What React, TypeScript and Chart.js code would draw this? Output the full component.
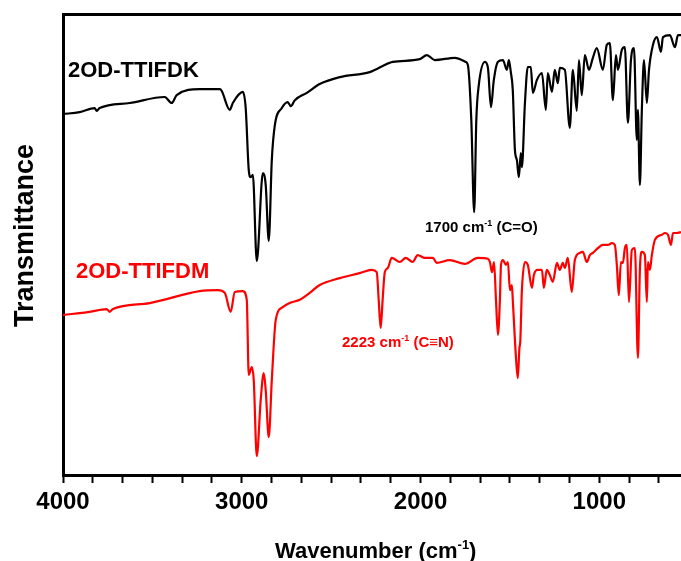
import React, { useEffect, useRef } from "react";
import { Chart, registerables } from "chart.js";

Chart.register(...registerables);

// ---- Data (wavenumber in cm^-1, transmittance in arbitrary %) ----
const BLACK_WN = [4000, 3907, 3823, 3811, 3795, 3627, 3431, 3392, 3364, 3235, 3123, 3112, 3067, 3050, 2994, 2978, 2961, 2950, 2938, 2916, 2882, 2866, 2849, 2832, 2815, 2776, 2743, 2726, 2703, 2636, 2564, 2452, 2284, 2155, 2004, 1965, 1920, 1808, 1747, 1735, 1716, 1700, 1688, 1674, 1640, 1623, 1606, 1590, 1568, 1539, 1517, 1506, 1495, 1484, 1472, 1461, 1450, 1439, 1433, 1416, 1400, 1383, 1372, 1349, 1321, 1299, 1288, 1265, 1249, 1232, 1221, 1193, 1165, 1148, 1126, 1114, 1098, 1081, 1058, 1036, 1014, 980, 958, 941, 924, 907, 896, 874, 857, 840, 823, 806, 790, 784, 773, 762, 750, 734, 722, 700, 678, 655, 644, 605, 577, 560, 543];
const BLACK_T = [78.3, 78.7, 79.6, 79.0, 79.6, 80.7, 82.0, 80.7, 82.4, 83.7, 83.7, 83.3, 79.2, 80.7, 83.1, 79.6, 66.2, 64.6, 65.1, 46.4, 65.5, 62.9, 50.8, 68.3, 75.9, 79.6, 80.9, 80.0, 81.3, 82.9, 84.8, 86.3, 87.4, 89.6, 90.2, 91.1, 90.0, 90.5, 89.6, 88.9, 77.0, 57.0, 77.0, 84.6, 89.6, 88.3, 79.8, 85.7, 89.6, 90.0, 87.9, 90.0, 87.4, 83.5, 70.5, 68.3, 64.6, 69.8, 66.8, 80.7, 88.5, 88.5, 82.9, 85.7, 87.2, 79.2, 87.2, 83.1, 87.9, 85.0, 88.3, 87.9, 75.3, 87.9, 79.0, 90.0, 82.4, 91.1, 87.9, 90.5, 92.6, 87.9, 93.3, 93.7, 81.3, 91.1, 87.9, 92.2, 92.8, 76.4, 90.0, 92.6, 72.7, 79.2, 62.9, 79.2, 90.0, 80.7, 87.9, 93.3, 95.0, 91.8, 95.0, 95.4, 92.8, 95.4, 95.4];

const RED_WN = [4000, 3851, 3756, 3739, 3721, 3515, 3235, 3134, 3095, 3062, 3039, 2994, 2972, 2961, 2944, 2933, 2916, 2894, 2877, 2866, 2849, 2832, 2810, 2771, 2732, 2676, 2620, 2564, 2452, 2340, 2273, 2245, 2234, 2223, 2212, 2200, 2183, 2161, 2116, 2083, 2044, 2016, 1976, 1931, 1909, 1837, 1752, 1679, 1623, 1612, 1600, 1589, 1578, 1567, 1556, 1550, 1539, 1522, 1511, 1500, 1489, 1484, 1467, 1456, 1447, 1442, 1433, 1416, 1400, 1377, 1366, 1344, 1321, 1310, 1294, 1277, 1260, 1237, 1221, 1204, 1193, 1176, 1154, 1137, 1109, 1092, 1070, 1053, 1036, 1008, 980, 952, 930, 913, 902, 891, 879, 868, 857, 846, 834, 818, 801, 784, 773, 762, 745, 734, 728, 717, 706, 689, 650, 633, 616, 599, 588, 566, 543];
const RED_T = [34.7, 35.4, 36.0, 35.4, 36.0, 37.3, 39.9, 40.1, 39.5, 35.4, 39.7, 39.9, 38.0, 21.7, 23.4, 20.6, 4.1, 16.3, 22.1, 18.4, 8.2, 20.6, 33.6, 36.4, 37.3, 38.0, 39.5, 41.2, 42.7, 43.8, 44.5, 44.0, 38.0, 31.9, 38.0, 44.0, 44.9, 47.1, 46.2, 47.1, 46.2, 47.7, 47.1, 47.1, 46.0, 46.6, 45.8, 47.1, 46.9, 46.2, 44.0, 46.2, 38.0, 30.4, 38.0, 45.6, 46.6, 45.6, 46.2, 40.1, 41.2, 38.0, 26.0, 21.0, 27.5, 29.0, 40.1, 46.2, 45.6, 40.6, 43.4, 44.5, 44.5, 40.6, 44.5, 43.4, 41.9, 46.0, 44.5, 46.0, 44.9, 47.1, 39.7, 46.6, 48.2, 48.4, 46.2, 47.7, 48.2, 49.2, 49.9, 49.9, 50.3, 49.9, 45.6, 39.0, 46.2, 46.0, 49.2, 49.9, 37.5, 48.8, 49.2, 25.4, 44.5, 48.4, 47.7, 37.5, 46.2, 44.5, 47.7, 51.0, 52.1, 52.5, 52.1, 49.9, 52.5, 52.5, 52.7];

const SERIES_NAMES = ["2OD-TTIFDK", "2OD-TTIFDM"];
const MAJOR_TICKS = [4000, 3000, 2000, 1000];
const MINOR_DIVISIONS = 6;
const X_MAX = 4000;
const X_MIN = 543;
const Y_MIN = 0;
const Y_MAX = 100;

const FONT_FAMILY = '"Liberation Sans", Arial, Helvetica, sans-serif';
const RED = "#ff0000";

function toPoints(xs: number[], ys: number[]) {
  return xs.map((x, i) => ({ x, y: ys[i] }));
}

type Part = { t: string; sup?: boolean };

function drawRich(ctx: CanvasRenderingContext2D, x: number, baseline: number, parts: Part[], size: number, color: string) {
  let cx = x;
  ctx.fillStyle = color;
  ctx.textAlign = "left";
  ctx.textBaseline = "alphabetic";
  for (const p of parts) {
    if (p.sup) {
      const s = Math.round(size * 0.6);
      ctx.font = `bold ${s}px ${FONT_FAMILY}`;
      ctx.fillText(p.t, cx, baseline - size * 0.42);
      cx += ctx.measureText(p.t).width;
    } else {
      ctx.font = `bold ${size}px ${FONT_FAMILY}`;
      ctx.fillText(p.t, cx, baseline);
      cx += ctx.measureText(p.t).width;
    }
  }
}

const textPlugin = {
  id: "irText",
  afterDraw(chart: any) {
    const ctx: CanvasRenderingContext2D = chart.ctx;
    ctx.save();
    // series labels
    drawRich(ctx, 68, 77, [{ t: SERIES_NAMES[0] }], 22, "#000");
    drawRich(ctx, 76, 278, [{ t: SERIES_NAMES[1] }], 22, RED);
    // peak annotations
    drawRich(ctx, 425, 232, [{ t: "1700 cm" }, { t: "-1", sup: true }, { t: " (C=O)" }], 15, "#000");
    drawRich(ctx, 342, 347, [{ t: "2223 cm" }, { t: "-1", sup: true }, { t: " (C\u2261N)" }], 15, RED);
    // x axis title
    drawRich(ctx, 275, 558, [{ t: "Wavenumber (cm" }, { t: "-1", sup: true }, { t: ")" }], 22, "#000");
    // y axis title
    ctx.translate(33, 235.5);
    ctx.rotate(-Math.PI / 2);
    ctx.font = `bold 27px ${FONT_FAMILY}`;
    ctx.fillStyle = "#000";
    ctx.textAlign = "center";
    ctx.textBaseline = "alphabetic";
    ctx.fillText("Transmittance", 0, 0);
    ctx.restore();
  },
};

function buildTicks(scale: any) {
  const step = (MAJOR_TICKS[0] - MAJOR_TICKS[1]) / MINOR_DIVISIONS;
  const ticks: { value: number }[] = [];
  for (let k = 0; ; k++) {
    const v = X_MAX - k * step;
    if (v < X_MIN + 1) break;
    ticks.push({ value: v });
  }
  ticks.reverse();
  scale.ticks = ticks;
}

export default function App() {
  const ref = useRef<HTMLCanvasElement>(null);
  useEffect(() => {
    const canvas = ref.current;
    if (!canvas) return;
    const chart = new Chart(canvas, {
      type: "scatter",
      data: {
        datasets: [
          {
            label: SERIES_NAMES[0],
            data: toPoints(BLACK_WN, BLACK_T),
            showLine: true,
            borderColor: "#000",
            backgroundColor: "#000",
            borderWidth: 2.2,
            pointRadius: 0,
            cubicInterpolationMode: "monotone",
          },
          {
            label: SERIES_NAMES[1],
            data: toPoints(RED_WN, RED_T),
            showLine: true,
            borderColor: RED,
            backgroundColor: RED,
            borderWidth: 2.2,
            pointRadius: 0,
            cubicInterpolationMode: "monotone",
          },
        ],
      },
      options: {
        animation: false,
        responsive: false,
        devicePixelRatio: 1,
        layout: { padding: { top: 14, right: 0, bottom: 0, left: 0 } },
        plugins: {
          legend: { display: false },
          tooltip: { enabled: false },
          title: { display: false },
        },
        scales: {
          x: {
            type: "linear",
            position: "bottom",
            reverse: true,
            min: X_MIN,
            max: X_MAX,
            afterBuildTicks: buildTicks,
            afterFit: (s: any) => {
              s.height = 86;
            },
            ticks: {
              autoSkip: false,
              maxRotation: 0,
              minRotation: 0,
              padding: 5,
              color: "#000",
              font: { family: FONT_FAMILY, size: 24, weight: "bold" },
              callback: (value: any) => {
                const v = Number(value);
                const r = Math.round(v / 1000) * 1000;
                return Math.abs(v - r) < 1 && MAJOR_TICKS.includes(r) ? String(r) : "";
              },
            },
            grid: {
              display: true,
              drawOnChartArea: false,
              drawTicks: true,
              tickLength: 8,
              tickWidth: 2,
              tickColor: "#000",
            },
            border: { display: true, width: 3, color: "#000" },
          },
          x2: {
            type: "linear",
            axis: "x",
            position: "top",
            reverse: true,
            min: X_MIN,
            max: X_MAX,
            afterFit: (s: any) => {
              s.height = 0;
            },
            ticks: { display: false },
            grid: { display: false },
            border: { display: true, width: 3, color: "#000" },
          },
          y: {
            type: "linear",
            min: Y_MIN,
            max: Y_MAX,
            afterFit: (s: any) => {
              s.width = 63;
            },
            ticks: { display: false },
            grid: { display: false },
            border: { display: true, width: 3, color: "#000" },
          },
        },
      } as any,
      plugins: [textPlugin],
    });
    return () => chart.destroy();
  }, []);
  return (
    <div style={{ position: "absolute", left: 0, top: 0, width: 681, height: 561, background: "#fff" }}>
      <canvas ref={ref} width={681} height={561} style={{ display: "block", width: 681, height: 561 }} />
    </div>
  );
}
